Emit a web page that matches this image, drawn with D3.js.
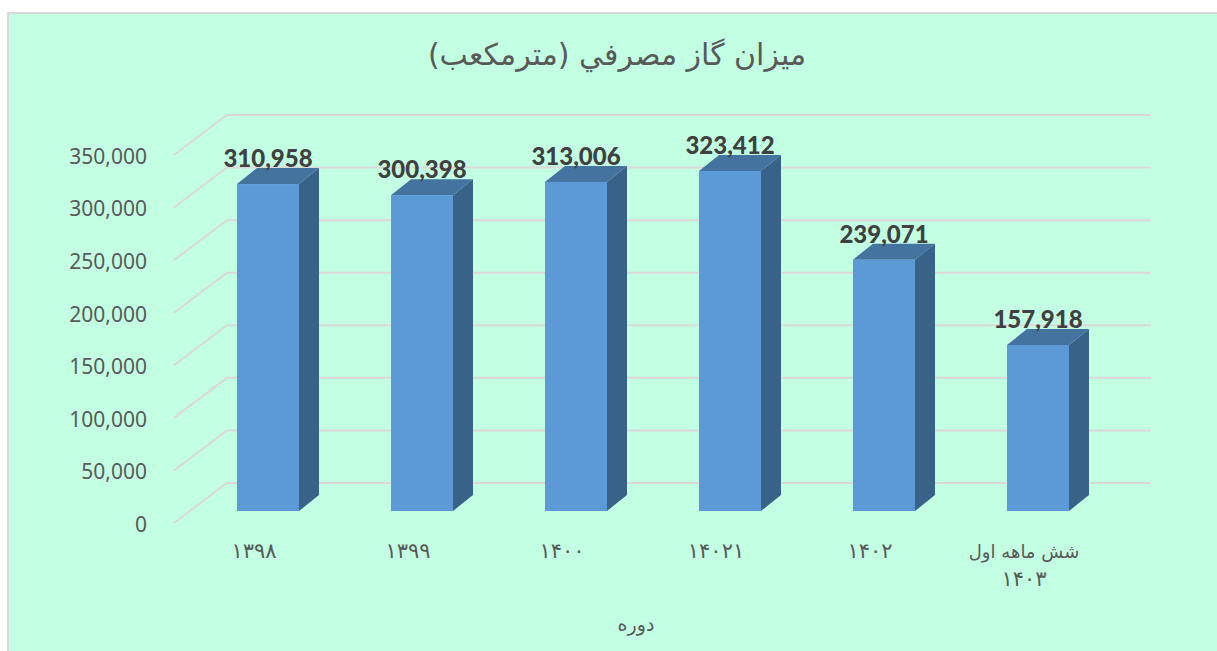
<!DOCTYPE html>
<html>
<head>
<meta charset="utf-8">
<script src="https://cdn.jsdelivr.net/npm/d3@7"></script>
<style>
  html, body { margin: 0; padding: 0; background: #fff; overflow: hidden; }
  .yTick text { font-family: "Noto Sans", sans-serif; font-size: 21px; fill: #595959; }
  .catLabel { font-family: "DejaVu Sans", sans-serif; font-size: 18px; fill: #595959; text-anchor: middle; }
  .dataLabel { font-family: Lato, sans-serif; font-weight: 900; font-size: 24px; fill: #404040; text-anchor: middle; }
  .chartTitle { font-family: "DejaVu Sans", sans-serif; font-size: 30px; fill: #595959; text-anchor: middle; }
  .axisTitle { font-family: "DejaVu Sans", sans-serif; font-size: 19px; fill: #595959; text-anchor: middle; }
</style>
</head>
<body>
<div id="chart"></div>
<script>
"use strict";

const categories = ["۱۳۹۸", "۱۳۹۹", "۱۴۰۰", "۱۴۰۲۱", "۱۴۰۲", "شش ماهه اول|۱۴۰۳"];
const values = [310958, 300398, 313006, 323412, 239071, 157918];
const yTicks = [0, 50000, 100000, 150000, 200000, 250000, 300000, 350000];
const titleText = "ميزان گاز مصرفي (مترمكعب)";
const xTitleText = "دوره";

let width = 1217;
let height = 651;

let svg = d3.select("#chart").append("svg")
  .attr("width", width)
  .attr("height", height)
  .attr("viewBox", [0, 0, width, height].join(" "))
  .style("display", "block");

// chart background, border only shows on left and top
svg.append("rect")
  .attr("x", 8).attr("y", 13)
  .attr("width", width - 8).attr("height", height - 13)
  .attr("fill", "#c3ffe2");
svg.append("path")
  .attr("d", `M8,${height}V13H${width}`)
  .attr("fill", "none")
  .attr("stroke", "#d9d9d9")
  .attr("stroke-width", 2);

// floor front edge runs 174..1098, back wall is shifted by the depth
let gap = (154 - 62) / 154;
let x = d3.scaleBand()
  .domain(categories)
  .range([174, 1098])
  .paddingInner(gap)
  .paddingOuter(gap / 2);
let y = d3.scaleLinear()
  .domain([0, 350000])
  .range([523, 155]);

let wallDepth = { x: 53, y: -40 };
let barOffset = { x: 17, y: -12 };
let barDepth = { x: 20, y: -16 };

// gridlines: diagonal on the side wall, then flat on the back wall
svg.append("g").selectAll("path")
  .data(yTicks)
  .enter().append("path")
  .attr("d", d => `M174,${y(d)}L${174 + wallDepth.x},${y(d) + wallDepth.y}H${1098 + wallDepth.x}`)
  .attr("fill", "none")
  .attr("stroke", "#dcd8d8")
  .attr("stroke-width", 2);

// y axis labels
let yAxis = d3.axisLeft(y)
  .tickValues(yTicks)
  .tickSize(0)
  .tickPadding(27)
  .tickFormat(d3.format(","));
svg.append("g")
  .attr("class", "yTick")
  .attr("transform", "translate(174,0)")
  .call(yAxis)
  .call(g => g.select(".domain").remove())
  .call(g => g.selectAll("text").attr("dy", "0.4em"));

// bars
let bars = svg.append("g").selectAll("g")
  .data(categories.map((c, i) => ({ cat: c, value: values[i] })))
  .enter().append("g")
  .attr("transform", `translate(${barOffset.x},${barOffset.y})`);

bars.append("path")
  .attr("fill", "#386287")
  .attr("d", d => {
    let r = x(d.cat) + x.bandwidth();
    return `M${r},${y(d.value)}l${barDepth.x},${barDepth.y}V${y(0) + barDepth.y}L${r},${y(0)}Z`;
  });

bars.append("path")
  .attr("fill", "#44739f")
  .attr("d", d => `M${x(d.cat)},${y(d.value)}l${barDepth.x},${barDepth.y}h${x.bandwidth()}l${-barDepth.x},${-barDepth.y}Z`);

bars.append("rect")
  .attr("fill", "#5b9ad7")
  .attr("x", d => x(d.cat))
  .attr("y", d => y(d.value))
  .attr("width", x.bandwidth())
  .attr("height", d => y(0) - y(d.value));

bars.append("text")
  .attr("class", "dataLabel")
  .attr("x", d => x(d.cat) + x.bandwidth() / 2)
  .attr("y", d => y(d.value) - 17)
  .text(d => d3.format(",")(d.value));

// category labels, "|" splits a two line label
let catLabels = svg.append("g").selectAll("text")
  .data(categories)
  .enter().append("text")
  .attr("class", "catLabel")
  .attr("transform", d => `translate(${x(d) + x.bandwidth() / 2 + 3},558)`);

catLabels.selectAll("tspan")
  .data(d => d.split("|"))
  .enter().append("tspan")
  .attr("x", 0)
  .attr("y", (d, i) => i * 28)
  .attr("font-size", d => /^[۰-۹]+$/.test(d) ? 21 : 18)
  .attr("letter-spacing", d => /^[۰-۹]+$/.test(d) ? 6 : 0)
  .text(d => d);

svg.append("text")
  .attr("class", "chartTitle")
  .attr("x", 617)
  .attr("y", 65)
  .text(titleText);

svg.append("text")
  .attr("class", "axisTitle")
  .attr("x", 636)
  .attr("y", 631)
  .text(xTitleText);
</script>
</body>
</html>
